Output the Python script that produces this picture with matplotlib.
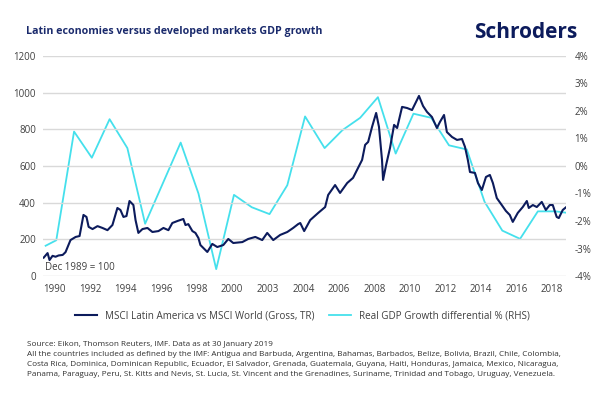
import numpy as np
import matplotlib
matplotlib.use("Agg")
import matplotlib.pyplot as plt

plt.rcParams['font.family'] = ['Open Sans', 'DejaVu Sans']

# MSCI Latin America vs MSCI World ratio (Dec 1989 = 100), decimal years
msci_years = [1989.89, 1990.11, 1990.22, 1990.39, 1990.56, 1990.73, 1990.96, 1991.12,
              1991.40, 1991.69, 1991.91, 1992.13, 1992.30, 1992.42, 1992.64, 1992.92,
              1993.20, 1993.48, 1993.76, 1994.04, 1994.21, 1994.38, 1994.55, 1994.72,
              1994.94, 1995.06, 1995.22, 1995.45, 1995.73, 1996.01, 1996.35, 1996.63,
              1996.91, 1997.13, 1997.42, 1997.75, 1997.87, 1998.03, 1998.26, 1998.43,
              1998.60, 1998.71, 1999.10, 1999.38, 1999.66, 2000.00, 2000.28, 2000.56,
              2001.07, 2001.40, 2001.80, 2002.19, 2002.47, 2002.81, 2003.20, 2003.60,
              2003.93, 2004.21, 2004.33, 2004.55, 2004.89, 2005.34, 2005.73, 2005.90,
              2006.29, 2006.57, 2006.97, 2007.30, 2007.58, 2007.81, 2007.98, 2008.15,
              2008.37, 2008.60, 2008.76, 2008.93, 2008.99, 2009.16, 2009.38, 2009.61,
              2009.78, 2010.06, 2010.34, 2010.62, 2010.90, 2011.01, 2011.24, 2011.46,
              2011.74, 2012.02, 2012.19, 2012.42, 2012.58, 2012.87, 2013.15, 2013.43,
              2013.60, 2013.76, 2013.88, 2014.16, 2014.33, 2014.55, 2014.78, 2015.00,
              2015.17, 2015.39, 2015.67, 2015.90, 2016.12, 2016.29, 2016.57, 2016.85,
              2017.08, 2017.19, 2017.42, 2017.64, 2017.92, 2018.15, 2018.37, 2018.54,
              2018.76, 2018.88, 2019.10, 2019.30]
msci_values = [100, 125, 87, 110, 105, 112, 115, 130,
               196, 213, 218, 333, 322, 268, 256, 272,
               262, 250, 278, 371, 360, 322, 327, 409,
               387, 305, 235, 256, 262, 240, 245, 262,
               250, 289, 300, 311, 278, 283, 245, 235,
               207, 169, 131, 175, 158, 169, 202, 180,
               185, 202, 213, 196, 235, 196, 224, 240,
               262, 283, 289, 245, 305, 344, 376, 442,
               496, 453, 507, 535, 589, 633, 715, 731,
               813, 889, 813, 633, 524, 605, 698, 824,
               807, 922, 916, 905, 960, 982, 927, 895,
               867, 807, 840, 878, 785, 758, 742, 747,
               704, 633, 567, 562, 507, 469, 540, 551,
               507, 425, 387, 355, 333, 295, 344, 376,
               409, 371, 387, 376, 404, 360, 387, 387,
               322, 316, 360, 376]

# Real GDP growth differential (%), right-hand scale
gdp_years = [1990.0, 1990.6, 1991.6, 1992.6, 1993.6, 1994.6, 1995.6, 1997.6, 1998.6,
             1999.6, 2000.6, 2001.6, 2002.6, 2003.6, 2004.6, 2005.7, 2006.7, 2007.7,
             2008.7, 2009.7, 2010.7, 2011.7, 2012.7, 2013.7, 2014.7, 2015.7, 2016.7,
             2017.7, 2018.7, 2019.3]
gdp_values = [-2.9, -2.7, 1.25, 0.3, 1.7, 0.65, -2.1, 0.85, -1.0,
              -3.75, -1.05, -1.5, -1.75, -0.7, 1.8, 0.65, 1.3, 1.75,
              2.5, 0.45, 1.9, 1.75, 0.75, 0.6, -1.3, -2.35, -2.65,
              -1.65, -1.65, -1.7]

tick_labels = ['1990', '1992', '1994', '1996', '1998', '2000', '2003', '2004',
               '2006', '2008', '2010', '2012', '2014', '2016', '2018']
left_ticks = [0, 200, 400, 600, 800, 1000, 1200]
right_ticks = [-4, -3, -2, -1, 0, 1, 2, 3, 4]

navy = '#0c1b5c'
cyan = '#45e0ec'
grey_text = '#404040'

fig = plt.figure(figsize=(6.05, 3.98), dpi=100)
ax = fig.add_axes([0.071, 0.3065, 0.865, 0.553])
ax2 = ax.twinx()

for y in left_ticks:
    ax.axhline(y, color='#d9d9d9', lw=1.0, zorder=0)

ax2.plot(gdp_years, gdp_values, color=cyan, lw=1.3)
ax.plot(msci_years, msci_values, color=navy, lw=1.5, zorder=3)
ax.set_zorder(ax2.get_zorder() + 1)
ax.patch.set_visible(False)

ax.set_xlim(1989.85, 2019.3)
ax.set_ylim(0, 1200)
ax2.set_ylim(-4, 4)
ax.set_yticks(left_ticks)
ax2.set_yticks(right_ticks)
ax2.set_yticklabels([f'{t}%' for t in right_ticks])
ax.set_xticks([1990.5 + 2 * i for i in range(len(tick_labels))])
ax.set_xticklabels(tick_labels)

for a in (ax, ax2):
    for s in a.spines.values():
        s.set_visible(False)
    a.tick_params(length=0, labelsize=7, labelcolor=grey_text, pad=6)
ax.tick_params(axis='y', pad=5)

ax.text(1989.95, 44, 'Dec 1989 = 100', fontsize=7, color=grey_text, va='center')

fig.text(0.043, 0.922, 'Latin economies versus developed markets GDP growth',
         fontsize=7.7, fontweight='bold', color='#1a2a6c', va='center')
fig.text(0.955, 0.918, 'Schroders', fontsize=15, fontweight='bold', color=navy,
         ha='right', va='center')

# legend drawn below the axes
ax.plot([], [], color=navy, lw=1.5, label='MSCI Latin America vs MSCI World (Gross, TR)')
ax.plot([], [], color=cyan, lw=1.3, label='Real GDP Growth differential % (RHS)')
fig.legend(loc='center', bbox_to_anchor=(0.5, 0.206), ncol=2, frameon=False,
           fontsize=7.1, handlelength=2.2, columnspacing=1.5,
           labelcolor=grey_text)

notes = ("Source: Eikon, Thomson Reuters, IMF. Data as at 30 January 2019\n"
         "All the countries included as defined by the IMF: Antigua and Barbuda, Argentina, Bahamas, "
         "Barbados, Belize, Bolivia, Brazil, Chile, Colombia,\n"
         "Costa Rica, Dominica, Dominican Republic, Ecuador, El Salvador, Grenada, Guatemala, Guyana, "
         "Haiti, Honduras, Jamaica, Mexico, Nicaragua,\n"
         "Panama, Paraguay, Peru, St. Kitts and Nevis, St. Lucia, St. Vincent and the Grenadines, "
         "Suriname, Trinidad and Tobago, Uruguay, Venezuela.")
fig.text(0.045, 0.097, notes, fontsize=5.9, color='#303030', va='center', linespacing=1.55)

fig.savefig('out.png', dpi=100)
